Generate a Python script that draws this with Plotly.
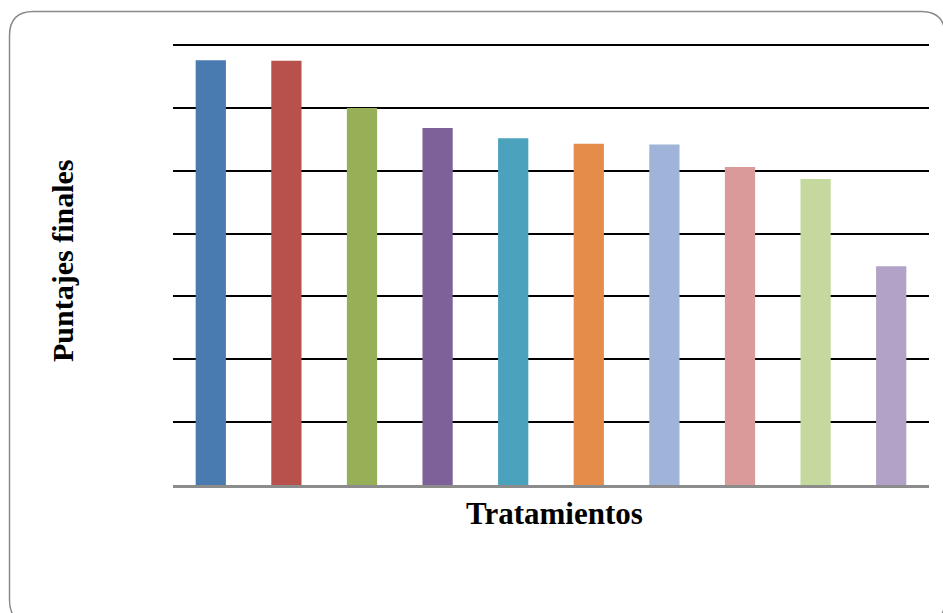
import plotly.graph_objects as go

# Final scores per treatment (no tick labels are shown on the chart)
tratamientos = ["T1", "T2", "T3", "T4", "T5", "T6", "T7", "T8", "T9", "T10"]
puntajes = [67.6, 67.5, 60.0, 56.8, 55.2, 54.3, 54.2, 50.6, 48.7, 34.8]
colores = ["#4A7BB0", "#B8504C", "#97B058", "#7E6199", "#4AA2BC",
           "#E68C4A", "#A0B4DA", "#DA9A99", "#C5D89E", "#B2A2C8"]

W, H = 943, 613
L, R, T, B = 173, 14, 42, 128
YMAX = 70.5
pw, ph = W - L - R, H - T - B


def px(x):
    return (x - L) / pw


def py(y):
    return (H - B - y) / ph


fig = go.Figure(go.Bar(
    x=tratamientos, y=puntajes,
    marker=dict(color=colores, line=dict(width=0)),
    width=0.4,
))

# rounded frame around the whole chart
x0, y0, x1, y1, r = 9.5, 11.5, 945, 624, 24
path = (f"M {px(x0)},{py(y0 + r)} Q {px(x0)},{py(y0)} {px(x0 + r)},{py(y0)} "
        f"L {px(x1 - r)},{py(y0)} Q {px(x1)},{py(y0)} {px(x1)},{py(y0 + r)} "
        f"L {px(x1)},{py(y1 - r)} Q {px(x1)},{py(y1)} {px(x1 - r)},{py(y1)} "
        f"L {px(x0 + r)},{py(y1)} Q {px(x0)},{py(y1)} {px(x0)},{py(y1 - r)} Z")
fig.add_shape(type="path", path=path, xref="paper", yref="paper",
              line=dict(color="#8a8a8a", width=1.5), layer="below")

title_font = dict(family="Liberation Serif", size=30, color="black")
fig.add_annotation(text="<b>Tratamientos</b>", xref="paper", yref="paper",
                   x=px(554), y=py(513), showarrow=False,
                   font=dict(title_font, size=31),
                   xanchor="center", yanchor="middle")
fig.add_annotation(text="<b>Puntajes finales</b>", xref="paper", yref="paper",
                   x=px(62), y=py(261), showarrow=False, font=title_font,
                   textangle=-90, xanchor="center", yanchor="middle")

fig.update_layout(
    width=W, height=H,
    margin=dict(l=L, r=R, t=T, b=B),
    paper_bgcolor="white", plot_bgcolor="white",
    showlegend=False,
    xaxis=dict(showticklabels=False, ticks="", showgrid=False,
               showline=True, linecolor="#8c8c8c", linewidth=2.5,
               zeroline=False),
    yaxis=dict(range=[0, YMAX], tickmode="linear", tick0=0, dtick=10,
               showticklabels=False, ticks="",
               showgrid=True, gridcolor="black", gridwidth=2.2,
               zeroline=False, showline=False),
)

fig.write_html("out.html")
